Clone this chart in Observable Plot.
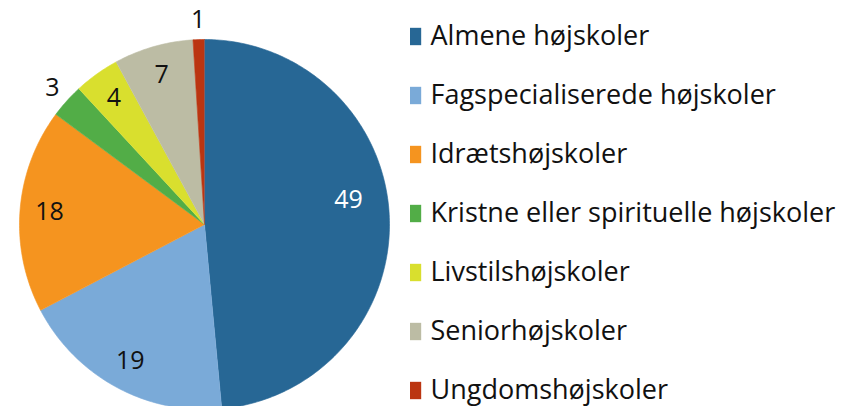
<!DOCTYPE html>
<html>
<head>
<meta charset="utf-8">
<script src="https://cdn.jsdelivr.net/npm/d3@7"></script>
<script src="https://cdn.jsdelivr.net/npm/@observablehq/plot@0.6"></script>
<style>
  html, body { margin: 0; padding: 0; background: #fff; }
  #wrap { display: flex; width: 846px; height: 406px; overflow: hidden; }
  svg { font-family: "Open Sans", Lato, sans-serif; }
</style>
</head>
<body>
<div id="wrap"></div>
<script>
const categories = [
  "Almene højskoler",
  "Fagspecialiserede højskoler",
  "Idrætshøjskoler",
  "Kristne eller spirituelle højskoler",
  "Livstilshøjskoler",
  "Seniorhøjskoler",
  "Ungdomshøjskoler"
];
const values = [49, 19, 18, 3, 4, 7, 1];
const palette = ["#276795", "#7aaad8", "#f5941f", "#52ad47", "#d9df2e", "#bcbca4", "#bb3511"];

const data = categories.map((name, i) => ({name, value: values[i]}));
const arcs = d3.pie().sort(null).value(d => d.value)(data);

// polygon outline for each slice, in unit-circle coordinates
const points = [];
for (const a of arcs) {
  const n = Math.max(4, Math.ceil((a.endAngle - a.startAngle) * 60));
  points.push({name: a.data.name, x: 0, y: 0});
  for (let k = 0; k <= n; k++) {
    const t = a.startAngle + (a.endAngle - a.startAngle) * k / n;
    points.push({name: a.data.name, x: Math.sin(t), y: Math.cos(t)});
  }
}

const labels = arcs.map(a => {
  const outside = a.data.value <= 3;
  const big = a.index === 0;
  // Excel's best-fit placement nudges the large slice's label upward
  const mid = (a.startAngle + a.endAngle) / 2 - (big ? 0.12 : 0);
  const r = outside ? 1.105 : big ? 0.79 : 0.84;
  return {
    name: a.data.name,
    value: a.data.value,
    x: r * Math.sin(mid),
    y: r * Math.cos(mid),
    dark: big
  };
});

const color = {domain: categories, range: palette};

const pie = Plot.plot({
  width: 410,
  height: 406,
  margin: 0,
  x: {domain: [-1, 1], range: [19, 389], axis: null},
  y: {domain: [-1, 1], range: [409, 39], axis: null},
  color,
  marks: [
    Plot.line(points, {x: "x", y: "y", z: "name", fill: "name", stroke: "name", strokeWidth: 0.6, curve: "linear"}),
    Plot.text(labels, {x: "x", y: "y", text: d => String(d.value), fill: d => d.dark ? "white" : "#111", fontSize: 25})
  ]
});

const legend = Plot.plot({
  width: 436,
  height: 406,
  margin: 0,
  y: {type: "point", domain: categories, range: [34.5, 390.5], padding: 0, axis: null},
  color,
  marks: [
    Plot.dot(categories, {y: d => d, frameAnchor: "left", dx: 2, symbol: "square", r: 9.8, fill: d => d}),
    Plot.text(categories, {y: d => d, frameAnchor: "left", dx: 20, text: d => d, textAnchor: "start", fill: "#111", fontSize: 27})
  ]
});

const wrap = document.getElementById("wrap");
wrap.appendChild(pie);
wrap.appendChild(legend);
</script>
</body>
</html>
